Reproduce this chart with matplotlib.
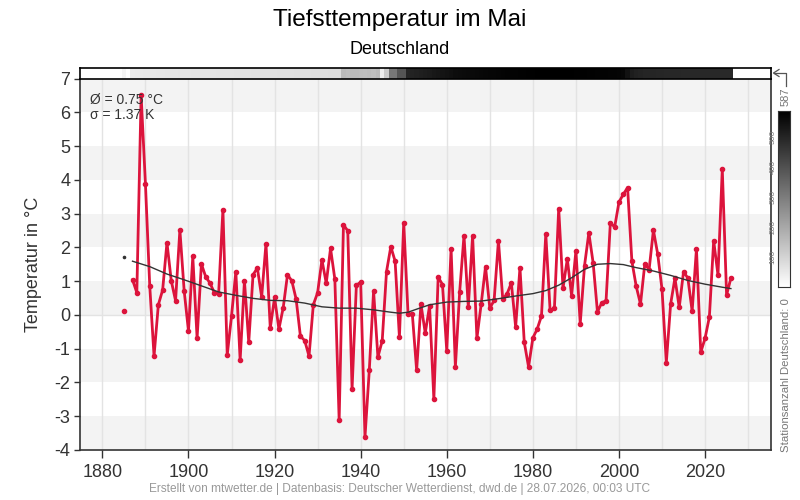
import numpy as np
import matplotlib
matplotlib.use("Agg")
import matplotlib.pyplot as plt
from matplotlib.lines import Line2D
from matplotlib.colors import LinearSegmentedColormap

plt.rcParams['font.family'] = ['Liberation Sans Narrow', 'Liberation Sans', 'DejaVu Sans']

title = "Tiefsttemperatur im Mai"
subtitle = "Deutschland"
ylabel = "Temperatur in °C"
footer = "Erstellt von mtwetter.de | Datenbasis: Deutscher Wetterdienst, dwd.de | 28.07.2026, 00:03 UTC"
legend_lines = ["Ø = 0.75 °C", "σ = 1.37 K"]

years = list(range(1885, 2027))
nan = float('nan')
temps = [
    0.12, nan, 1.04, 0.66, 6.50, 3.88, 0.86, -1.22, 0.30, 0.74,      # 1885-1894
    2.14, 1.01, 0.42, 2.52, 0.71, -0.48, 1.73, -0.69, 1.51, 1.13,    # 1895-1904
    0.94, 0.66, 0.62, 3.12, -1.19, -0.03, 1.28, -1.34, 1.01, -0.81,  # 1905-1914
    1.19, 1.39, 0.53, 2.11, -0.39, 0.52, -0.42, 0.21, 1.19, 1.01,    # 1915-1924
    0.47, -0.63, -0.76, -1.22, 0.30, 0.66, 1.63, 0.94, 1.97, 1.06,   # 1925-1934
    -3.12, 2.67, 2.49, -2.20, 0.88, 0.97, -3.62, -1.64, 0.71, -1.25, # 1935-1944
    -0.77, 1.28, 2.02, 1.59, -0.66, 2.73, 0.03, 0.02, -1.64, 0.32,   # 1945-1954
    -0.54, 0.27, -2.50, 1.12, 0.90, -1.07, 1.96, -1.54, 0.69, 2.35,  # 1955-1964
    0.23, 2.35, -0.69, 0.33, 1.43, 0.20, 0.43, 2.20, 0.47, 0.62,     # 1965-1974
    0.95, -0.36, 1.40, -0.81, -1.54, -0.68, -0.42, -0.03, 2.40, 0.14,# 1975-1984
    0.19, 3.15, 0.79, 1.66, 0.57, 1.90, -0.26, 1.46, 2.43, 1.54,     # 1985-1994
    0.09, 0.36, 0.42, 2.73, 2.60, 3.34, 3.57, 3.77, 1.59, 0.85,      # 1995-2004
    0.32, 1.51, 1.34, 2.51, 1.80, 0.76, -1.41, 0.32, 1.09, 0.22,     # 2005-2014
    1.28, 1.09, 0.11, 1.96, -1.11, -0.69, -0.06, 2.20, 1.18, 4.32,   # 2015-2024
    0.59, 1.09,                                                      # 2025-2026
]

stations = [
    25, 0, 50, 51, 52, 53, 54, 55, 56, 57,
    58, 58, 59, 60, 60, 61, 62, 62, 63, 63,
    64, 64, 65, 65, 66, 66, 67, 67, 68, 68,
    69, 69, 70, 70, 71, 71, 72, 72, 73, 73,
    74, 74, 75, 75, 76, 76, 77, 77, 78, 78,
    79, 156, 150, 158, 156, 152, 150, 154, 148, 160,
    39, 117, 313, 313, 391, 391, 500, 505, 510, 515,
    520, 525, 530, 535, 540, 545, 550, 555, 558, 560,
    562, 564, 566, 568, 570, 572, 573, 575, 576, 578,
    579, 580, 581, 582, 583, 584, 585, 586, 587, 587,
    587, 586, 586, 585, 585, 584, 584, 583, 582, 581,
    580, 579, 578, 577, 576, 575, 570, 545, 520, 510,
    505, 502, 500, 500, 498, 498, 497, 497, 496, 496,
    495, 495, 495, 494, 494, 494, 493, 493, 493, 492,
    492, 492,
]
station_max = 587
cbar_ticks = [100, 200, 300, 400, 500]

smooth_single_year = [1885]
smooth_single_val = [1.72]
smooth_years = [1887, 1891, 1895, 1899, 1903, 1907, 1911, 1915, 1919, 1923,
                1927, 1931, 1935, 1939, 1943, 1947, 1949, 1951, 1953, 1956,
                1960, 1964, 1968, 1972, 1976, 1980, 1983, 1986, 1989, 1992,
                1995, 1998, 2001, 2004, 2008, 2012, 2016, 2020, 2024, 2026]
smooth_vals = [1.59, 1.43, 1.21, 1.04, 0.86, 0.68, 0.58, 0.49, 0.43, 0.42,
               0.35, 0.24, 0.20, 0.20, 0.15, 0.08, 0.05, 0.08, 0.17, 0.30,
               0.38, 0.40, 0.41, 0.48, 0.56, 0.63, 0.72, 0.88, 1.10, 1.35,
               1.50, 1.52, 1.49, 1.40, 1.30, 1.17, 1.02, 0.91, 0.82, 0.78]

yticks = list(range(-4, 8))
xticks_major = list(range(1880, 2021, 20))
xgrid = list(range(1880, 2031, 10))

gray_cmap = LinearSegmentedColormap.from_list('wb', ['#ffffff', '#000000'])

W, H = 800, 500
fig = plt.figure(figsize=(8, 5), dpi=100)

def fx(px):
    return px / W

def fy(py):
    return 1 - py / H

ax_l, ax_r, ax_t, ax_b = 80, 770.5, 78.5, 450
ax = fig.add_axes([fx(ax_l), fy(ax_b), fx(ax_r - ax_l), (ax_b - ax_t) / H])
xlim = (1874.8, 2035.2)
ax.set_xlim(*xlim)
ax.set_ylim(-4, 7)

# alternating bands
for k in range(-4, 7):
    if (k - 6) % 2 == 0:
        ax.axhspan(k, k + 1, color='#f3f3f3', lw=0, zorder=0)
for g in xgrid:
    ax.axvline(g, color='#e3e3e3', lw=1.0, zorder=1)
ax.axhline(0, color='#e3e3e3', lw=1.0, zorder=1)

ax.plot(years, temps, color='#dc143c', lw=2.0, marker='o', ms=3.0, zorder=4,
        solid_joinstyle='round')
ax.plot(smooth_years, smooth_vals, color='#333333', lw=1.0, zorder=5)
ax.plot(smooth_single_year, smooth_single_val, 'o', color='#333333', ms=1.6, zorder=5)

ax.set_yticks(yticks)
ax.set_yticklabels([str(v) for v in yticks])
ax.set_xticks(xticks_major)
ax.tick_params(axis='y', labelsize=13, colors='#333333', length=4, width=1, pad=3)
ax.tick_params(axis='x', labelsize=13, colors='#333333', length=6, width=1, pad=4)
for lab in ax.get_xticklabels() + ax.get_yticklabels():
    lab.set_color('#333333')
ax.spines['top'].set_visible(False)
for s in ['left', 'bottom', 'right']:
    ax.spines[s].set_color('#333333')
    ax.spines[s].set_linewidth(1.2)
ax.set_ylabel(ylabel, fontsize=13, color='#333333', labelpad=9)

ax.text(0.0145, 0.962, legend_lines[0] + "\n" + legend_lines[1], transform=ax.transAxes,
        fontsize=10, color='#333333', va='top', ha='left', linespacing=1.1, zorder=6)

# station strip
ax_s = fig.add_axes([fx(ax_l), fy(78.5), fx(ax_r - ax_l), 10.5 / H])
edges = np.append(np.array(years) - 0.5, years[-1] + 0.5)
ax_s.pcolormesh(edges, [0, 1], np.array(stations, dtype=float)[None, :], cmap=gray_cmap,
                vmin=0, vmax=station_max, shading='flat')
ax_s.set_xlim(*xlim)
ax_s.set_ylim(0, 1)
ax_s.set_xticks([])
ax_s.set_yticks([])
for s in ax_s.spines.values():
    s.set_color('black')
    s.set_linewidth(1.2)

# colorbar
ax_c = fig.add_axes([fx(778), fy(287), fx(11.5), (287 - 111) / H])
grad = np.linspace(0, station_max, 256)[:, None]
ax_c.imshow(grad, aspect='auto', cmap=gray_cmap, vmin=0, vmax=station_max,
            origin='lower', extent=[0, 1, 0, station_max])
ax_c.set_xticks([])
ax_c.set_yticks([])
for t in cbar_ticks:
    ax_c.text(-0.45, t, str(t), rotation=90, ha='center', va='center',
              fontsize=6, color='#777777', transform=ax_c.get_yaxis_transform(),
              clip_on=False)
for s in ax_c.spines.values():
    s.set_color('#333333')
    s.set_linewidth(0.8)

fig.text(fx(786), fy(97), str(station_max), rotation=90, ha='center', va='center',
         fontsize=8, color='#777777')
fig.text(fx(786), fy(298), "Stationsanzahl Deutschland: 0", rotation=90, ha='center',
         va='top', fontsize=8.2, color='#777777')
fig.add_artist(Line2D([fx(774), fx(786), fx(786)], [fy(73), fy(73), fy(86)],
                      transform=fig.transFigure, color='#555555', lw=0.9))
fig.add_artist(Line2D([fx(779), fx(773.5), fx(779)], [fy(69.5), fy(73), fy(76.5)],
                      transform=fig.transFigure, color='#555555', lw=0.9))

fig.text(0.5, fy(20), title, ha='center', va='center', fontsize=17.5, color='#000000')
fig.text(0.5, fy(50), subtitle, ha='center', va='center', fontsize=13, color='#000000')
fig.text(0.5, fy(489), footer, ha='center', va='center', fontsize=8.6, color='#999999')

fig.savefig("out.png", dpi=100)
